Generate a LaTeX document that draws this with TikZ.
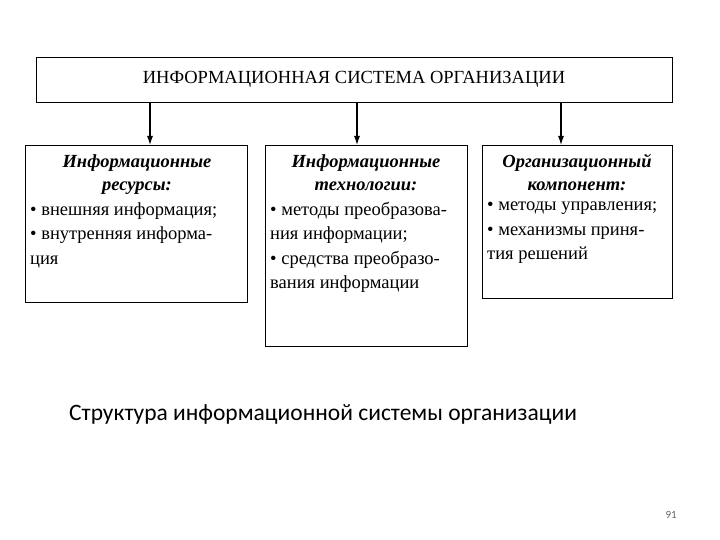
\documentclass[tikz,border=0pt]{standalone}
\usepackage{fontspec}
\setmainfont{Liberation Serif}
\newfontfamily\capfont{Carlito}
\usetikzlibrary{arrows.meta}
\begin{document}
\begin{tikzpicture}[x=1pt,y=-1pt,
  box/.style={draw,line width=0.8pt,inner sep=0pt,outer sep=0pt},
  arr/.style={line width=1.1pt,-{Latex[length=9pt,width=6pt]}},
  txt/.style={font=\fontsize{18.5}{24.5}\selectfont,align=left,anchor=north west,inner sep=0pt},
  ttl/.style={font=\fontsize{18.5}{23}\selectfont\bfseries\itshape,align=center,anchor=north,inner sep=0pt}]
\useasboundingbox (0,0) rectangle (720,540);
\node[box,minimum width=636pt,minimum height=45pt,anchor=north west,font=\fontsize{18.5}{20}\selectfont] (top) at (36,57) {ИНФОРМАЦИОННАЯ СИСТЕМА ОРГАНИЗАЦИИ};
\node[box,minimum width=222pt,minimum height=157pt,anchor=north west] (b1) at (25,145) {};
\node[box,minimum width=202pt,minimum height=201pt,anchor=north west] (b2) at (265,145) {};
\node[box,minimum width=190pt,minimum height=153pt,anchor=north west] (b3) at (482,145) {};
\coordinate (a1) at (150,102); \coordinate (a2) at (357,102); \coordinate (a3) at (561,102);
\draw[arr] (a1) -- (a1 |- b1.north);
\draw[arr] (a2) -- (a2 |- b2.north);
\draw[arr] (a3) -- (a3 |- b3.north);
\node[ttl] (t1) at (137,154) {Информационные\\ресурсы:};
\node[txt] (x1) at (30,202) {• внешняя информация;\\• внутренняя информа-\\ция};
\node[ttl] (t2) at (366,154) {Информационные\\технологии:};
\node[txt] (x2) at (270,202) {• методы преобразова-\\ния информации;\\• средства преобразо-\\вания информации};
\node[ttl] (t3) at (577,154) {Организационный\\компонент:};
\node[txt] (x3) at (487,202) {• методы управления;\\• механизмы приня-\\тия решений};
\node[anchor=west,inner sep=0pt,font=\capfont\fontsize{23.5}{28}\selectfont] (cap) at (69,414) {Структура информационной системы организации};
\node[anchor=east,inner sep=0pt,font=\capfont\fontsize{11}{13}\selectfont,text=black!60] (pg) at (677,515) {91};
\end{tikzpicture}
\end{document}
